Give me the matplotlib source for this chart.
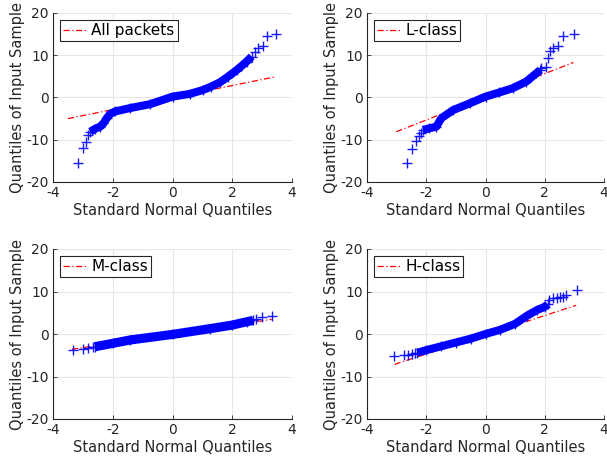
import matplotlib
matplotlib.use("Agg")
import matplotlib.pyplot as plt

plt.rcParams["axes.unicode_minus"] = False

# ---------------- data ----------------
titles = ["All packets", "L-class", "M-class", "H-class"]

# All packets
all_body_x = [-2.75, -2.59, -2.42, -2.31, -2.20, -2.09, -1.92, -1.42, -0.75, 0.00, 0.59, 1.03, 1.30, 1.59, 1.85, 2.15, 2.30, 2.48, 2.65]
all_body_y = [-8.1, -7.4, -6.9, -6.1, -4.9, -3.9, -3.3, -2.5, -1.58, 0.2, 0.87, 1.8, 2.6, 3.6, 4.9, 6.5, 7.4, 8.5, 9.7]
all_tail_x = [-3.17, -3.00, -2.89, -2.82, 2.76, 2.87, 3.02, 3.15, 3.46]
all_tail_y = [-15.6, -11.95, -10.5, -8.9, 10.85, 11.6, 12.2, 14.6, 14.95]
all_ref_x = [-3.50, 3.45]
all_ref_y = [-5.0, 4.9]

# L-class
l_body_x = [-2.11, -1.90, -1.66, -1.49, -1.10, -0.54, 0.00, 0.47, 0.92, 1.37, 1.71, 1.85]
l_body_y = [-7.7, -7.3, -6.9, -4.9, -3.0, -1.4, 0.2, 1.2, 2.2, 3.75, 5.7, 6.5]
l_tail_x = [-2.65, -2.47, -2.36, -2.26, -2.17, 1.88, 2.05, 2.12, 2.19, 2.29, 2.44, 2.61, 2.98]
l_tail_y = [-15.6, -12.1, -10.4, -9.1, -8.3, 6.9, 7.3, 9.4, 11.1, 11.6, 12.2, 14.6, 14.95]
l_ref_x = [-3.01, 2.97]
l_ref_y = [-8.1, 8.3]

# M-class
m_body_x = [-2.60, -2.00, -1.42, 0.00, 1.25, 2.00, 2.50, 2.70]
m_body_y = [-3.0, -2.2, -1.41, -0.1, 1.25, 2.1, 2.9, 3.2]
m_tail_x = [-3.32, -2.98, -2.82, -2.65, 2.80, 2.98, 3.33]
m_tail_y = [-3.76, -3.45, -3.2, -3.0, 3.6, 3.93, 4.35]
m_ref_x = [-3.37, 3.32]
m_ref_y = [-3.6, 3.45]

# H-class
h_body_x = [-2.30, -2.00, -1.50, -1.00, -0.50, 0.00, 0.50, 1.00, 1.40, 1.73, 2.00, 2.10]
h_body_y = [-4.4, -3.8, -2.9, -2.0, -1.1, 0.0, 1.0, 2.4, 4.3, 5.6, 6.4, 7.0]
h_tail_x = [-3.08, -2.74, -2.60, -2.48, -2.37, 2.13, 2.29, 2.40, 2.50, 2.60, 2.71, 3.08]
h_tail_y = [-5.1, -4.95, -4.86, -4.7, -4.55, 8.0, 8.4, 8.5, 8.6, 8.8, 9.2, 10.45]
h_ref_x = [-3.07, 3.06]
h_ref_y = [-7.14, 6.75]

x_ticks = [-4, -2, 0, 2, 4]
y_ticks = [-20, -10, 0, 10, 20]

panels = [
    (all_body_x, all_body_y, all_tail_x, all_tail_y, all_ref_x, all_ref_y),
    (l_body_x, l_body_y, l_tail_x, l_tail_y, l_ref_x, l_ref_y),
    (m_body_x, m_body_y, m_tail_x, m_tail_y, m_ref_x, m_ref_y),
    (h_body_x, h_body_y, h_tail_x, h_tail_y, h_ref_x, h_ref_y),
]
band_widths = [5.8, 5.8, 6.6, 5.8]

# ---------------- figure ----------------
W, H = 607, 458
fig = plt.figure(figsize=(W / 100, H / 100), dpi=100)
rects = [
    (53, 13, 292, 182),
    (367, 13, 604, 182),
    (53, 249, 292, 419),
    (367, 249, 604, 419),
]
text_col = "#262626"
blue = (0.0, 0.0, 1.0)

for i, (rect, data, title) in enumerate(zip(rects, panels, titles)):
    l, t, r, b = rect
    ax = fig.add_axes([l / W, 1 - b / H, (r - l) / W, (b - t) / H])
    bx, by, tx, ty, rx, ry = data
    ax.plot(rx, ry, color="red", lw=0.9, linestyle=(0, (5, 2, 1, 2)),
            zorder=2, label=title)
    ax.plot(bx, by, color=blue, lw=band_widths[i],
            solid_capstyle="butt", solid_joinstyle="round", zorder=3)
    ax.plot(bx + tx, by + ty, linestyle="none", marker="+", ms=7,
            mew=1.0, color=blue, alpha=0.9, zorder=4)
    ax.set_xlim(-4, 4)
    ax.set_ylim(-20, 20)
    ax.set_xticks(x_ticks)
    ax.set_yticks(y_ticks)
    ax.grid(True, color="#e6e6e6", lw=0.8)
    ax.set_axisbelow(True)
    for s in ("top", "right"):
        ax.spines[s].set_visible(False)
    for s in ("left", "bottom"):
        ax.spines[s].set_color(text_col)
        ax.spines[s].set_linewidth(0.8)
    ax.tick_params(direction="in", length=3, width=0.6, colors=text_col,
                   labelsize=10, pad=3)
    ax.set_xlabel("Standard Normal Quantiles", fontsize=10.5, color=text_col,
                  labelpad=2)
    ax.set_ylabel("Quantiles of Input Sample", fontsize=10.5, color=text_col,
                  labelpad=1)
    leg = ax.legend(loc="upper left", fontsize=11, frameon=True,
                    fancybox=False, edgecolor="#262626", framealpha=1,
                    handlelength=1.6, handletextpad=0.25, borderpad=0.2,
                    borderaxespad=0.45)
    leg.get_frame().set_linewidth(0.8)

fig.savefig("out.png", dpi=100)
